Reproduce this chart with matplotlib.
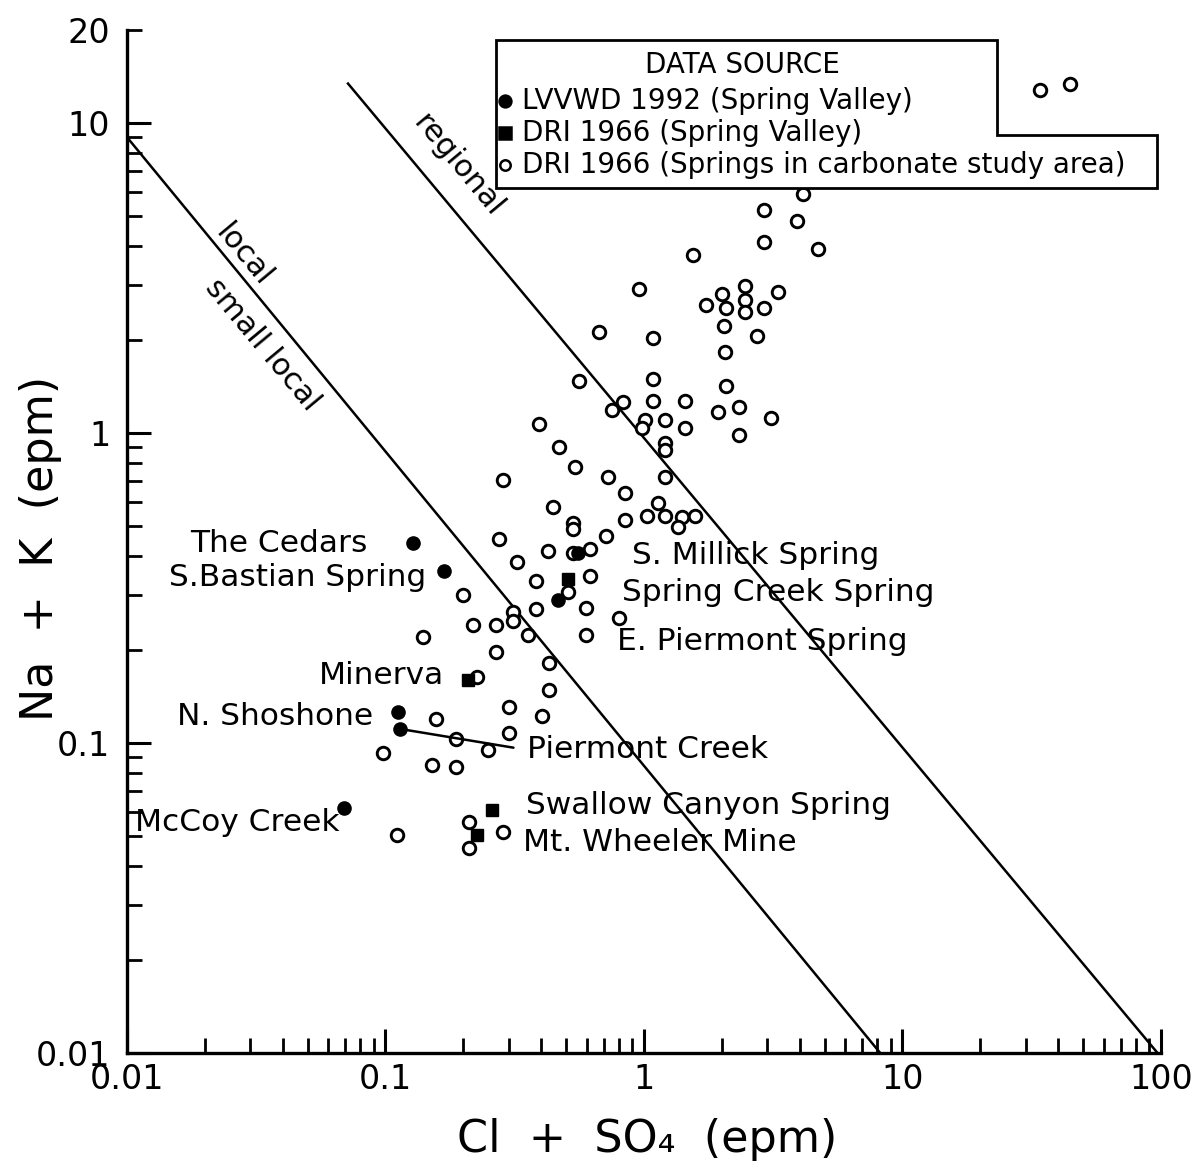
import matplotlib
matplotlib.use("Agg")
import matplotlib.pyplot as plt
from matplotlib.patches import Polygon

# ---------------- data (epm) ----------------
# DRI 1966 – springs in carbonate study area (open circles)
carb_x = [34.0, 44.5, 4.14, 2.90, 3.91, 2.90, 4.71, 1.55, 0.957, 2.45,
          2.00, 3.30, 1.74, 2.08, 2.45, 2.45, 2.90, 2.04, 2.74, 0.670,
          1.08, 2.06, 0.560, 1.08, 2.08, 0.830, 0.752, 1.08, 1.44, 1.93,
          2.33, 3.10, 1.01, 0.982, 1.21, 1.44, 2.33, 1.21, 1.21, 0.471,
          0.541, 0.726, 1.21, 0.393, 0.284, 0.848, 0.445, 1.13, 1.03, 1.21,
          1.40, 1.58, 1.35, 0.848, 0.529, 0.529, 0.710, 0.276, 0.616, 0.425,
          0.529, 0.323, 0.616, 0.382, 0.506, 0.1995, 0.594, 0.382, 0.797, 0.311,
          0.311, 0.218, 0.268, 0.356, 0.594, 0.140, 0.268, 0.429, 0.226, 0.429,
          0.300, 0.157, 0.403, 0.300, 0.188, 0.249, 0.0978, 0.151, 0.188, 0.111,
          0.210, 0.210, 0.284]
carb_y = [12.8, 13.4, 5.92, 5.24, 4.83, 4.12, 3.91, 3.75, 2.92, 2.98,
          2.81, 2.84, 2.59, 2.54, 2.68, 2.46, 2.54, 2.22, 2.06, 2.12,
          2.03, 1.82, 1.47, 1.49, 1.42, 1.26, 1.19, 1.27, 1.27, 1.17,
          1.21, 1.12, 1.10, 1.04, 1.10, 1.04, 0.985, 0.928, 0.882, 0.901,
          0.777, 0.72, 0.72, 1.07, 0.705, 0.640, 0.577, 0.594, 0.540, 0.540,
          0.536, 0.540, 0.497, 0.524, 0.512, 0.490, 0.467, 0.455, 0.4225, 0.416,
          0.409, 0.384, 0.346, 0.332, 0.308, 0.300, 0.272, 0.271, 0.253, 0.265,
          0.248, 0.241, 0.241, 0.223, 0.223, 0.220, 0.197, 0.181, 0.163, 0.148,
          0.131, 0.1195, 0.122, 0.108, 0.103, 0.0949, 0.0928, 0.0849, 0.0837, 0.0504,
          0.0556, 0.0458, 0.0516]

# LVVWD 1992 – Spring Valley (filled circles)
lv_names = ["The Cedars", "S.Bastian Spring", "S. Millick Spring",
            "E. Piermont Spring", "N. Shoshone", "Piermont Creek", "McCoy Creek"]
lv_x = [0.128, 0.168, 0.555, 0.465, 0.112, 0.114, 0.069]
lv_y = [0.442, 0.359, 0.409, 0.289, 0.126, 0.111, 0.0617]

# DRI 1966 – Spring Valley (filled squares)
dri_names = ["Spring Creek Spring", "Minerva", "Swallow Canyon Spring", "Mt. Wheeler Mine"]
dri_x = [0.506, 0.2085, 0.258, 0.226]
dri_y = [0.337, 0.160, 0.0608, 0.0504]

# reference lines (end points)
local_x = [0.01, 8.2]
local_y = [9.0, 0.01]
regional_x = [0.0711, 97.0]
regional_y = [13.5, 0.01]

x_major = [0.01, 0.1, 1, 10, 100]
x_major_labels = ["0.01", "0.1", "1", "10", "100"]
y_major = [0.01, 0.1, 1, 10]
y_major_labels = ["0.01", "0.1", "1", "10"]

# ---------------- figure ----------------
fig = plt.figure(figsize=(12.04, 11.65), dpi=100)
ax = fig.add_axes([0.10548, 0.09614, 0.85880, 0.87837])
ax.set_xscale("log")
ax.set_yscale("log")
ax.set_xlim(0.01, 100)
ax.set_ylim(0.01, 20)

for s in ("top", "right"):
    ax.spines[s].set_visible(False)
for s in ("left", "bottom"):
    ax.spines[s].set_linewidth(2.4)

ax.set_xticks(x_major)
ax.set_xticklabels(x_major_labels)
xminor = [k * 10.0 ** n for n in range(-2, 2) for k in range(2, 10)]
ax.set_xticks(xminor, minor=True)
ax.set_xticklabels([""] * len(xminor), minor=True)

ax.set_yticks(y_major)
ax.set_yticklabels(y_major_labels)
yminor = [k * 10.0 ** n for n in range(-2, 1) for k in range(2, 10)] + [20]
ax.set_yticks(yminor, minor=True)
ax.set_yticklabels([""] * (len(yminor) - 1) + ["20"], minor=True)

ax.tick_params(which="major", direction="in", length=17, width=2.2, labelsize=24)
ax.tick_params(which="minor", direction="in", length=11, width=2.0, labelsize=24)
ax.tick_params(axis="x", which="both", pad=7)
ax.tick_params(axis="y", which="both", pad=12)

# lines
ax.plot(local_x, local_y, color="black", lw=1.8, solid_capstyle="butt", clip_on=False)
ax.plot(regional_x, regional_y, color="black", lw=1.8, solid_capstyle="butt", clip_on=False)

# points
ax.plot(carb_x, carb_y, linestyle="none", marker="o", ms=9, mfc="white",
        mec="black", mew=2.1, clip_on=False, zorder=3)
ax.plot(lv_x, lv_y, linestyle="none", marker="o", ms=9.5, mfc="black",
        mec="black", clip_on=False, zorder=4)
ax.plot(dri_x, dri_y, linestyle="none", marker="s", ms=9.0, mfc="black",
        mec="black", clip_on=False, zorder=4)

# line labels
ang = -50.2
ax.text(0.0281, 3.75, "local", rotation=ang, rotation_mode="anchor",
        ha="center", va="center", fontsize=22)
ax.text(0.0333, 1.92, "small local", rotation=ang, rotation_mode="anchor",
        ha="center", va="center", fontsize=22)
ax.text(0.1908, 7.32, "regional", rotation=ang, rotation_mode="anchor",
        ha="center", va="center", fontsize=22)

# point annotations (offsets in pixels)
lab_fs = 22.5
lv_off = {"The Cedars": (-46, -1, "right"),
          "S.Bastian Spring": (-17, -7, "right"),
          "S. Millick Spring": (54, -2, "left"),
          "E. Piermont Spring": (59, -41, "left"),
          "N. Shoshone": (-25, -5, "right"),
          "Piermont Creek": (127, -21, "left"),
          "McCoy Creek": (-4, -14, "right")}
for name, x, y in zip(lv_names, lv_x, lv_y):
    dx, dy, ha = lv_off[name]
    kw = {}
    if name == "Piermont Creek":
        kw["arrowprops"] = dict(arrowstyle="-", lw=1.8, color="black",
                                shrinkA=8, shrinkB=5, relpos=(0, 0.5))
    ax.annotate(name, xy=(x, y), xytext=(dx, dy), textcoords="offset pixels",
                ha=ha, va="center", fontsize=lab_fs, **kw)

dri_off = {"Spring Creek Spring": (54, -13, "left"),
           "Minerva": (-24, 4, "right"),
           "Swallow Canyon Spring": (34, 4, "left"),
           "Mt. Wheeler Mine": (46, -7, "left")}
for name, x, y in zip(dri_names, dri_x, dri_y):
    dx, dy, ha = dri_off[name]
    ax.annotate(name, xy=(x, y), xytext=(dx, dy), textcoords="offset pixels",
                ha=ha, va="center", fontsize=lab_fs)

# legend box (stepped outline)
box = Polygon([(0.3569, 0.9899), (0.8414, 0.9899), (0.8414, 0.8971),
               (0.9961, 0.8971), (0.9961, 0.8453), (0.3569, 0.8453)],
              closed=True, facecolor="white", edgecolor="black", lw=2.0,
              transform=ax.transAxes, zorder=5, clip_on=False)
ax.add_patch(box)
leg_fs = 20
ax.text(0.5948, 0.9655, "DATA SOURCE", transform=ax.transAxes, ha="center",
        va="center", fontsize=leg_fs, zorder=6)
rows = [("o", "black", "LVVWD 1992 (Spring Valley)", 0.9303, 8.5),
        ("s", "black", "DRI 1966 (Spring Valley)", 0.8990, 8.0),
        ("o", "white", "DRI 1966 (Springs in carbonate study area)", 0.8678, 7.5)]
for mk, fc, lab, yy, ms in rows:
    ax.plot([0.3656], [yy], marker=mk, ms=ms, mfc=fc, mec="black", mew=1.8,
            transform=ax.transAxes, clip_on=False, zorder=6, linestyle="none")
    ax.text(0.382, yy, lab, transform=ax.transAxes, ha="left", va="center",
            fontsize=leg_fs, zorder=6)

# axis labels
fig.text(0.0340, 0.5296, "Na  +  K  (epm)", rotation=90, ha="center", va="center",
         fontsize=32)
fig.text(0.5374, 0.0223, "Cl  +  SO\u2084  (epm)", ha="center", va="center",
         fontsize=32)

fig.savefig("out.png", dpi=100)
